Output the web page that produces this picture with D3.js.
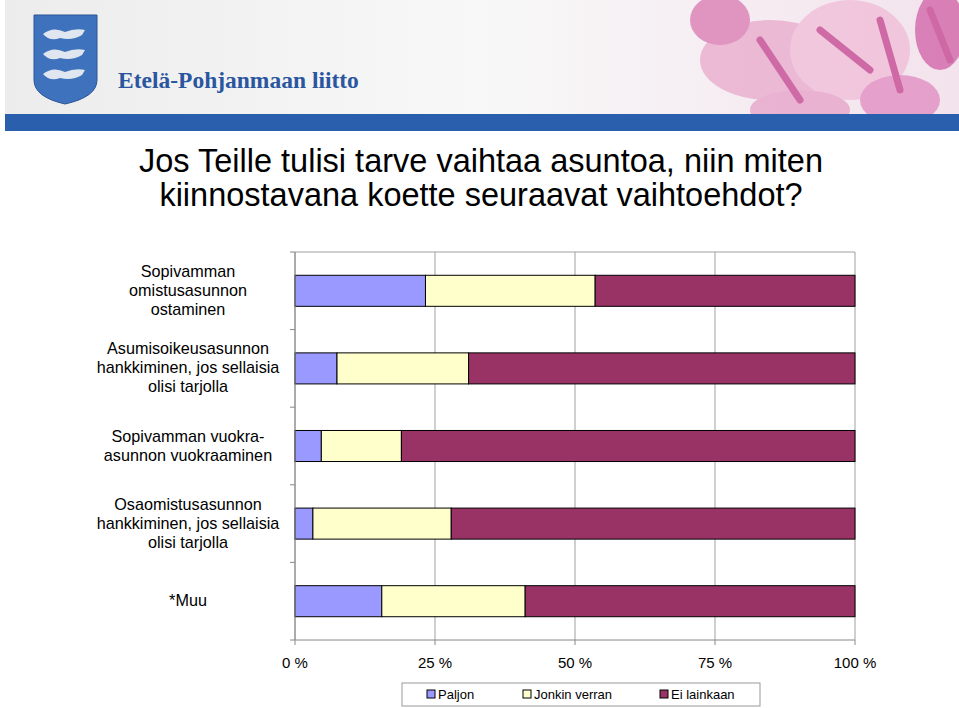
<!DOCTYPE html>
<html><head><meta charset="utf-8">
<script src="https://cdn.jsdelivr.net/npm/d3@7"></script>
<style>body{margin:0;background:#fff}svg{display:block;font-family:"Liberation Sans",Arial,sans-serif}</style>
</head><body><svg id="c" width="959" height="708"></svg>
<script>
const categories = [
  ["Sopivamman","omistusasunnon","ostaminen"],
  ["Asumisoikeusasunnon","hankkiminen, jos sellaisia","olisi tarjolla"],
  ["Sopivamman vuokra-","asunnon vuokraaminen"],
  ["Osaomistusasunnon","hankkiminen, jos sellaisia","olisi tarjolla"],
  ["*Muu"]
];
const seriesNames = ["Paljon","Jonkin verran","Ei lainkaan"];
const paljon = [23.3, 7.5, 4.7, 3.2, 15.5];
const jonkin = [30.3, 23.5, 14.3, 24.7, 25.6];
const eiLainkaan = [46.4, 69.0, 81.0, 72.1, 58.9];
const xTicks = [0,25,50,75,100];
const colors = ["#9999ff","#ffffcc","#993366"];

const svg = d3.select("#c");
const defs = svg.append("defs");
const g1 = defs.append("linearGradient").attr("id","hg");
g1.append("stop").attr("offset","0").attr("stop-color","#ececec");
g1.append("stop").attr("offset","0.5").attr("stop-color","#f8f8f8");
g1.append("stop").attr("offset","1").attr("stop-color","#f3e3ec");
svg.append("rect").attr("x",5).attr("y",0).attr("width",954).attr("height",114).attr("fill","url(#hg)");
const fl = svg.append("g").attr("opacity",0.75);
[[770,60,70,40,"#e9a9cc"],[850,50,60,50,"#f0bcd8"],[720,20,30,25,"#d977b0"],[900,100,40,25,"#e08ac0"],[800,110,50,20,"#e6a0c8"],[940,30,25,40,"#cf5fa5"]]
 .forEach(d=>fl.append("ellipse").attr("cx",d[0]).attr("cy",d[1]).attr("rx",d[2]).attr("ry",d[3]).attr("fill",d[4]));
[[760,40,800,100],[820,30,870,70],[880,20,900,90],[930,10,950,60]].forEach(d=>fl.append("line").attr("x1",d[0]).attr("y1",d[1]).attr("x2",d[2]).attr("y2",d[3]).attr("stroke","#c2408e").attr("stroke-width",7).attr("stroke-linecap","round"));
svg.append("rect").attr("x",5).attr("y",114).attr("width",954).attr("height",17).attr("fill","#2a5fae");
svg.append("path").attr("d","M34,15 L97,15 L97,80 Q97,97 65,104 Q34,97 34,80 Z").attr("fill","#3f72bd").attr("stroke","#2a5496");
[34,54,74].forEach(y=>svg.append("path").attr("d",`M43,${y} q10,-8 22,-2 q10,-4 20,-2 l-3,5 q-10,6 -22,3 q-10,4 -17,-4z`).attr("fill","#dfe6f0"));
svg.append("text").attr("x",118).attr("y",88).attr("font-family","Liberation Serif,serif").attr("font-weight","bold").attr("font-size",23.5).attr("fill","#2a56a0").text("Etelä-Pohjanmaan liitto");

svg.append("text").attr("x",481).attr("y",172).attr("text-anchor","middle").attr("font-size",32.5).attr("fill","#000").text("Jos Teille tulisi tarve vaihtaa asuntoa, niin miten");
svg.append("text").attr("x",481).attr("y",206).attr("text-anchor","middle").attr("font-size",32.5).attr("fill","#000").text("kiinnostavana koette seuraavat vaihtoehdot?");

const x = d3.scaleLinear().domain([0,100]).range([295,855]);
const y = d3.scaleBand().domain(d3.range(5)).range([252,640]).paddingInner(0.6).paddingOuter(0.3);
const yb = d3.scaleBand().domain(d3.range(5)).range([252,640]);
const g = svg.append("g");
g.selectAll(".gr").data(xTicks).join("line").attr("x1",d=>x(d)).attr("x2",d=>x(d)).attr("y1",252).attr("y2",640).attr("stroke","#a0a0a0");
g.append("line").attr("x1",295).attr("x2",855).attr("y1",252).attr("y2",252).attr("stroke","#a0a0a0");
const stack = d3.stack().keys([0,1,2])(d3.range(5).map(i=>[paljon[i],jonkin[i],eiLainkaan[i]]));
stack.forEach((s,k)=>{
  g.selectAll(null).data(s).join("rect").attr("x",d=>x(d[0])).attr("width",d=>x(d[1])-x(d[0]))
   .attr("y",(d,i)=>y(i)).attr("height",y.bandwidth()).attr("fill",colors[k]).attr("stroke","#000").attr("stroke-width",1);
});
g.append("line").attr("x1",295).attr("x2",295).attr("y1",252).attr("y2",640).attr("stroke","#888");
g.append("line").attr("x1",295).attr("x2",855).attr("y1",640).attr("y2",640).attr("stroke","#888");
d3.range(6).forEach(i=>g.append("line").attr("x1",290).attr("x2",295).attr("y1",252+i*yb.step()).attr("y2",252+i*yb.step()).attr("stroke","#888"));
xTicks.forEach(t=>{
  g.append("line").attr("x1",x(t)).attr("x2",x(t)).attr("y1",640).attr("y2",645).attr("stroke","#888");
  g.append("text").attr("x",x(t)).attr("y",668).attr("text-anchor","middle").attr("font-size",15).text(t+" %");
});
categories.forEach((lines,i)=>{
  const cy = y(i)+y.bandwidth()/2;
  const t = g.append("text").attr("text-anchor","middle").attr("font-size",16.2);
  lines.forEach((l,j)=>t.append("tspan").attr("x",188).attr("y",cy+5+(j-(lines.length-1)/2)*19).text(l));
});
svg.append("rect").attr("x",402).attr("y",683).attr("width",358).attr("height",23).attr("fill","#fff").attr("stroke","#999");
const lx=[427,523,660];
seriesNames.forEach((n,i)=>{
  svg.append("rect").attr("x",lx[i]).attr("y",690).attr("width",8).attr("height",8).attr("fill",colors[i]).attr("stroke","#000");
  svg.append("text").attr("x",lx[i]+11).attr("y",699).attr("font-size",13).text(n);
});
</script></body></html>
